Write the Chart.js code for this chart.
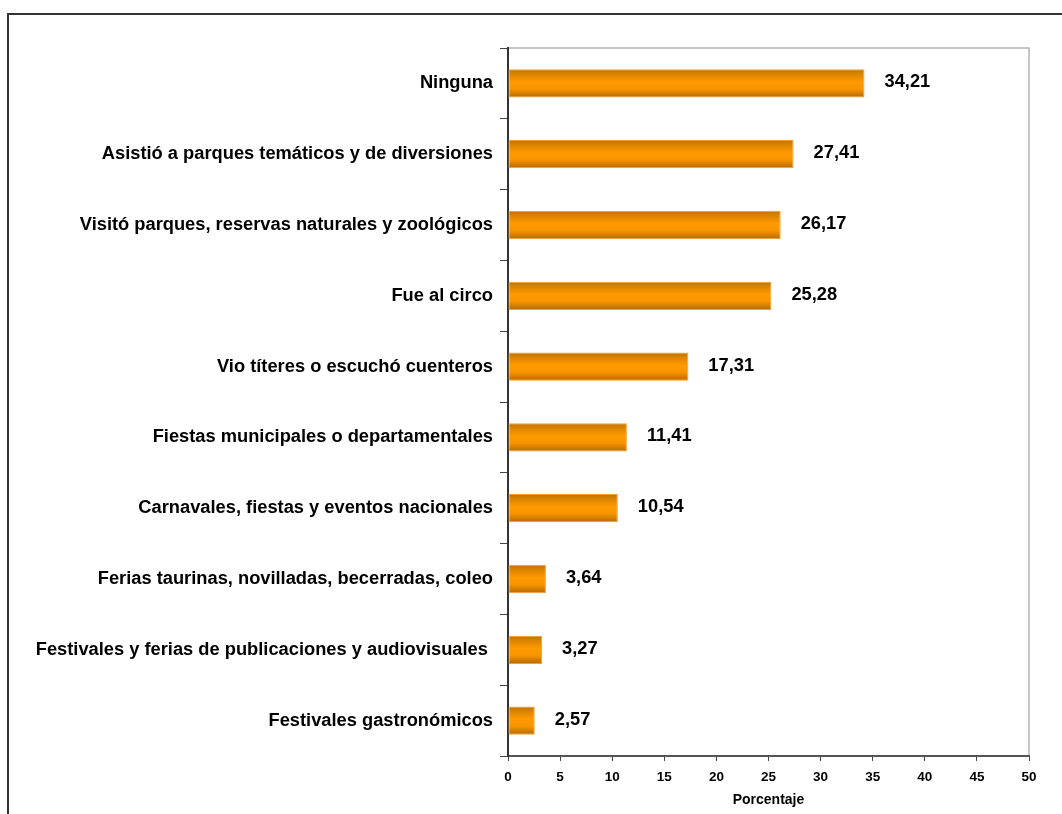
<!DOCTYPE html>
<html>
<head>
<meta charset="utf-8">
<script src="https://cdn.jsdelivr.net/npm/chart.js@4.4.1/dist/chart.umd.min.js"></script>
<style>
  html, body { margin: 0; padding: 0; background: #fff; }
  #c { display: block; }
</style>
</head>
<body>
<canvas id="c" width="1062" height="814"></canvas>
<script>
const categories = [
  "Ninguna",
  "Asistió a parques temáticos y de diversiones",
  "Visitó parques, reservas naturales y zoológicos",
  "Fue al circo",
  "Vio títeres o escuchó cuenteros",
  "Fiestas municipales o departamentales",
  "Carnavales, fiestas y eventos nacionales",
  "Ferias taurinas, novilladas, becerradas, coleo",
  "Festivales y ferias de publicaciones y audiovisuales ",
  "Festivales gastronómicos"
];
const percentages = [34.21, 27.41, 26.17, 25.28, 17.31, 11.41, 10.54, 3.64, 3.27, 2.57];
const xTicks = [0, 5, 10, 15, 20, 25, 30, 35, 40, 45, 50];
const xTitle = "Porcentaje";

const FONT = "'Liberation Sans', Arial, Helvetica, sans-serif";

function fmt(v) { return v.toFixed(2).replace('.', ','); }

const framePlugin = {
  id: 'frame',
  beforeDraw(chart) {
    const ctx = chart.ctx;
    ctx.save();
    ctx.fillStyle = '#fff';
    ctx.fillRect(0, 0, chart.width, chart.height);
    ctx.strokeStyle = '#333';
    ctx.lineWidth = 2;
    ctx.beginPath();
    ctx.moveTo(8, chart.height);
    ctx.lineTo(8, 14);
    ctx.lineTo(chart.width, 14);
    ctx.stroke();
    const a = chart.chartArea;
    ctx.strokeStyle = '#b4b4b4';
    ctx.lineWidth = 1.5;
    ctx.beginPath();
    ctx.moveTo(a.left, a.top);
    ctx.lineTo(a.right, a.top);
    ctx.lineTo(a.right, a.bottom);
    ctx.stroke();
    ctx.restore();
  }
};

const valueLabels = {
  id: 'valueLabels',
  afterDatasetsDraw(chart) {
    const ctx = chart.ctx;
    const meta = chart.getDatasetMeta(0);
    ctx.save();
    ctx.font = "bold 18.3px " + FONT;
    ctx.fillStyle = '#000';
    ctx.textAlign = 'left';
    ctx.textBaseline = 'middle';
    meta.data.forEach((el, i) => {
      ctx.fillText(fmt(percentages[i]), el.x + 20, el.y - 1);
    });
    ctx.restore();
  }
};

function barGradient(context) {
  const chart = context.chart;
  const ys = chart.scales && chart.scales.y;
  if (!ys || context.type !== 'data') return '#ff9900';
  const y = ys.getPixelForValue(context.dataIndex);
  if (!isFinite(y)) return '#ff9900';
  const h = 14;
  const g = chart.ctx.createLinearGradient(0, y - h, 0, y + h);
  g.addColorStop(0, '#c07000');
  g.addColorStop(0.15, '#d88200');
  g.addColorStop(0.45, '#ff9a00');
  g.addColorStop(0.7, '#f89400');
  g.addColorStop(1, '#b46a00');
  return g;
}

new Chart(document.getElementById('c'), {
  type: 'bar',
  data: {
    labels: categories,
    datasets: [{
      data: percentages,
      backgroundColor: barGradient,
      borderColor: '#f0a030',
      borderWidth: 1,
      borderSkipped: false,
      categoryPercentage: 0.4,
      barPercentage: 1.0
    }]
  },
  options: {
    indexAxis: 'y',
    responsive: false,
    animation: false,
    devicePixelRatio: 1,
    layout: { padding: { top: 48, right: 33, left: 0, bottom: 0 } },
    plugins: {
      legend: { display: false },
      tooltip: { enabled: false }
    },
    scales: {
      x: {
        type: 'linear',
        min: 0,
        max: 50,
        afterBuildTicks(scale) { scale.ticks = xTicks.map(v => ({ value: v })); },
        afterFit(scale) { scale.height = 58; },
        grid: {
          display: true,
          drawOnChartArea: false,
          drawTicks: true,
          tickLength: 5,
          color: '#444'
        },
        border: { display: true, color: '#555', width: 2 },
        ticks: {
          color: '#000',
          padding: 8,
          font: { family: FONT, size: 13.5, weight: 'bold' },
          callback: (v) => String(v)
        },
        title: {
          display: true,
          text: xTitle,
          color: '#000',
          font: { family: FONT, size: 14, weight: 'bold' },
          padding: { top: 0, bottom: 5 }
        }
      },
      y: {
        type: 'category',
        afterFit(scale) { scale.width = 508; },
        grid: {
          display: true,
          offset: true,
          drawOnChartArea: false,
          drawTicks: true,
          tickLength: 8,
          color: '#444'
        },
        border: { display: true, color: '#333', width: 2 },
        ticks: {
          color: '#000',
          padding: 7,
          autoSkip: false,
          font: { family: FONT, size: 18.3, weight: 'bold' }
        }
      }
    }
  },
  plugins: [framePlugin, valueLabels]
});
</script>
</body>
</html>
